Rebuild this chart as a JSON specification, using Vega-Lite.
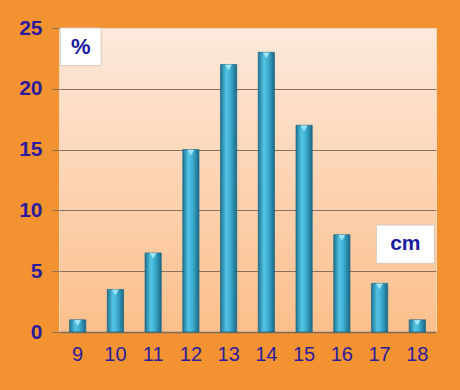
{
  "$schema": "https://vega.github.io/schema/vega-lite/v6.json",
  "width": 377,
  "height": 304,
  "autosize": {"type": "none"},
  "padding": {"left": 59, "top": 28, "right": 24, "bottom": 58},
  "background": "#f29230",
  "config": {
    "font": "Liberation Sans",
    "view": {
      "stroke": "#f6d8c0",
      "strokeWidth": 1,
      "fill": {
        "gradient": "linear", "x1": 0, "y1": 0, "x2": 0, "y2": 1,
        "stops": [{"offset": 0, "color": "#fde9dc"}, {"offset": 1, "color": "#fcbf8b"}]
      }
    }
  },
  "datasets": {
    "bars": [
      {"cm": "9", "pct": 1},
      {"cm": "10", "pct": 3.5},
      {"cm": "11", "pct": 6.5},
      {"cm": "12", "pct": 15},
      {"cm": "13", "pct": 22},
      {"cm": "14", "pct": 23},
      {"cm": "15", "pct": 17},
      {"cm": "16", "pct": 8},
      {"cm": "17", "pct": 4},
      {"cm": "18", "pct": 1}
    ],
    "pctLabel": [{"t": "%"}],
    "cmLabel": [{"t": "cm"}]
  },
  "layer": [
    {
      "data": {"name": "bars"},
      "mark": {
        "type": "bar",
        "stroke": "#1a6684", "strokeWidth": 0.7,
        "fill": {
          "gradient": "linear", "x1": 0, "y1": 0, "x2": 1, "y2": 0,
          "stops": [
            {"offset": 0, "color": "#1d7392"},
            {"offset": 0.35, "color": "#55c5e4"},
            {"offset": 0.6, "color": "#3eafd2"},
            {"offset": 1, "color": "#1a6986"}
          ]
        }
      },
      "encoding": {
        "x": {
          "field": "cm", "type": "ordinal", "sort": null,
          "scale": {"paddingInner": 0.57, "paddingOuter": 0.28},
          "axis": {
            "title": null, "labelAngle": 0, "labelFont": "Liberation Sans",
            "labelFontSize": 20, "labelColor": "#2c1c9c", "labelPadding": 12,
            "ticks": false, "domainColor": "#7d6a5c", "domainWidth": 1.5
          }
        },
        "y": {
          "field": "pct", "type": "quantitative",
          "scale": {"domain": [0, 25], "nice": false},
          "axis": {
            "title": null, "values": [0, 5, 10, 15, 20, 25],
            "labelFont": "Liberation Sans", "labelFontSize": 21, "labelFontWeight": "bold",
            "labelColor": "#2c1c9c", "labelPadding": 10, "domain": false,
            "tickColor": "#8a7060", "tickSize": 7,
            "gridColor": "#8a7060", "gridWidth": 1,
            "gridOpacity": {"condition": {"test": "datum.value == 0 || datum.value == 25", "value": 0}, "value": 1}
          }
        }
      }
    },
    {
      "data": {"name": "bars"},
      "mark": {"type": "point", "shape": "triangle-down", "filled": true, "color": "#a8eaf8", "size": 45, "opacity": 0.9, "yOffset": 3},
      "encoding": {
        "x": {"field": "cm", "type": "ordinal", "sort": null},
        "y": {"field": "pct", "type": "quantitative"}
      }
    },
    {
      "data": {"name": "pctLabel"},
      "mark": {"type": "rect", "fill": "white", "stroke": "#d8c8bc", "width": 41, "xOffset": 3},
      "encoding": {"x": {"datum": "9", "type": "ordinal"}, "y": {"datum": 25, "type": "quantitative"}, "y2": {"datum": 21.9}}
    },
    {
      "data": {"name": "pctLabel"},
      "mark": {"type": "text", "fontSize": 22, "fontWeight": "bold", "color": "#1a1aa0", "xOffset": 3},
      "encoding": {"x": {"datum": "9", "type": "ordinal"}, "y": {"datum": 23.45, "type": "quantitative"}, "text": {"field": "t"}}
    },
    {
      "data": {"name": "cmLabel"},
      "mark": {"type": "rect", "fill": "white", "stroke": "#d8c8bc", "width": 58, "xOffset": -12},
      "encoding": {"x": {"datum": "18", "type": "ordinal"}, "y": {"datum": 8.8, "type": "quantitative"}, "y2": {"datum": 5.65}}
    },
    {
      "data": {"name": "cmLabel"},
      "mark": {"type": "text", "fontSize": 21, "fontWeight": "bold", "color": "#1a1aa0", "xOffset": -12},
      "encoding": {"x": {"datum": "18", "type": "ordinal"}, "y": {"datum": 7.2, "type": "quantitative"}, "text": {"field": "t"}}
    }
  ]
}
